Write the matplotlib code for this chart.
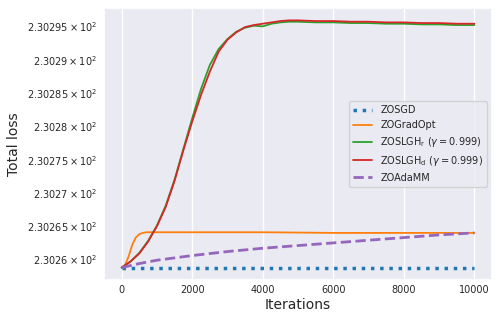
import matplotlib
matplotlib.use("Agg")
import matplotlib.pyplot as plt
import seaborn as sns

sns.set_theme(style="darkgrid")

# iterations grid shared by most curves
iters = [0, 250, 500, 750, 1000, 1250, 1500, 1750, 2000, 2250, 2500, 2750,
         3000, 3250, 3500, 3750, 4000, 4250, 4500, 4750, 5000, 5500, 6000,
         6500, 7000, 7500, 8000, 8500, 9000, 9500, 10000]

zosgd = [230.2588] * len(iters)

grad_iters = [0, 100, 200, 300, 400, 500, 600, 700, 800, 1000, 2000, 4000,
              6000, 8000, 10000]
zogradopt = [230.2588, 230.2592, 230.2605, 230.2622, 230.2633, 230.2638,
             230.2640, 230.2641, 230.2641, 230.2641, 230.2641, 230.2641,
             230.2640, 230.2640, 230.2640]

zoslgh_r = [230.2588, 230.2597, 230.2610, 230.2628, 230.2651, 230.2681,
            230.2720, 230.2766, 230.2812, 230.2856, 230.2892, 230.2916,
            230.2931, 230.2942, 230.2948, 230.2951, 230.2950, 230.2954,
            230.2956, 230.2957, 230.2957, 230.2956, 230.2956, 230.2955,
            230.2955, 230.2954, 230.2954, 230.2953, 230.2953, 230.2952,
            230.2952]

zoslgh_d = [230.2588, 230.2597, 230.2609, 230.2627, 230.2650, 230.2679,
            230.2718, 230.2764, 230.2807, 230.2847, 230.2882, 230.2912,
            230.2930, 230.2941, 230.2949, 230.2952, 230.2954, 230.2956,
            230.2958, 230.2959, 230.2959, 230.2958, 230.2958, 230.2957,
            230.2957, 230.2956, 230.2956, 230.2955, 230.2955, 230.2954,
            230.2954]

ada_iters = [0, 500, 1000, 2000, 3000, 4000, 5000, 6000, 7000, 8000, 9000, 10000]
zoadamm = [230.2588, 230.2594, 230.2599, 230.2606, 230.2612, 230.2617,
           230.2621, 230.2625, 230.2629, 230.2633, 230.2637, 230.2640]

fig, ax = plt.subplots(figsize=(5, 3.21), dpi=100)
fig.subplots_adjust(left=0.208, right=0.984, top=0.975, bottom=0.128)

ax.plot(iters, zosgd, ':', color='tab:blue', lw=2.5, label='ZOSGD')
ax.plot(grad_iters, zogradopt, '-', color='tab:orange', lw=1.3, label='ZOGradOpt')
ax.plot(iters, zoslgh_r, '-', color='tab:green', lw=1.3,
        label=r'ZOSLGH$_\mathrm{r}$ ($\gamma = 0.999$)')
ax.plot(iters, zoslgh_d, '-', color='tab:red', lw=1.3,
        label=r'ZOSLGH$_\mathrm{d}$ ($\gamma = 0.999$)')
ax.plot(ada_iters, zoadamm, '--', color='tab:purple', lw=2, label='ZOAdaMM')

ax.set_yscale('log')
ax.set_xlabel('Iterations', fontsize=10, labelpad=2)
ax.set_ylabel('Total loss', fontsize=10, labelpad=4)
ax.tick_params(axis='both', which='both', labelsize=7, length=0)
ax.tick_params(axis='x', which='both', pad=4)
ax.tick_params(axis='y', which='both', pad=5)
ax.legend(loc='center right', fontsize=7)

fig.savefig('out.png', dpi=100)
